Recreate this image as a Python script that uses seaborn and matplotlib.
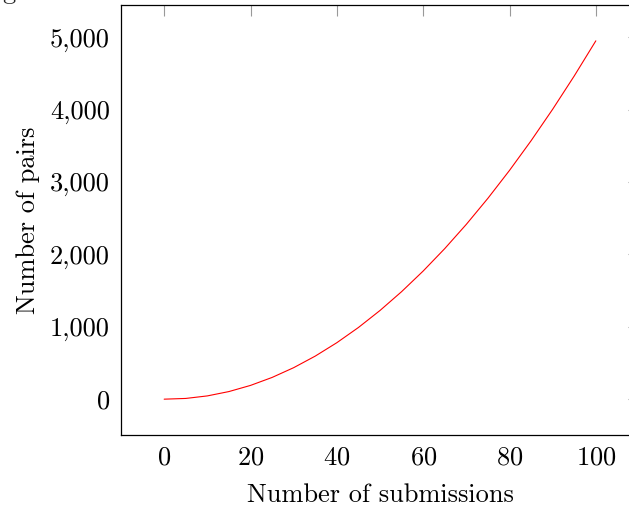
import pandas as pd
import seaborn as sns
import matplotlib
matplotlib.use("Agg")
import matplotlib.pyplot as plt
from matplotlib.ticker import FuncFormatter

# values
submissions = [0, 5, 10, 15, 20, 25, 30, 35, 40, 45, 50, 55, 60, 65, 70, 75, 80, 85, 90, 95, 100]
pairs = [0, 10, 45, 105, 190, 300, 435, 595, 780, 990, 1225, 1485, 1770, 2080, 2415,
         2775, 3160, 3570, 4005, 4465, 4950]
x_ticks = [0, 20, 40, 60, 80, 100]
y_ticks = [0, 1000, 2000, 3000, 4000, 5000]

df = pd.DataFrame({"submissions": submissions, "pairs": pairs})

sns.set_theme(style="white")
plt.rcParams['font.family'] = ['cmr10', 'DejaVu Serif']
plt.rcParams['axes.formatter.use_mathtext'] = True
plt.rcParams['font.size'] = 19

fig = plt.figure(figsize=(6.29, 5.12), dpi=100)
# axis box runs past the right edge of the image, as in the reference
ax = fig.add_axes([121 / 629, 77 / 512, (639 - 121) / 629, (435 - 5) / 512])

sns.lineplot(data=df, x="submissions", y="pairs", color="red", linewidth=0.8, ax=ax)

ax.set_xlim(-10, 110)
ax.set_ylim(-495, 5445)
ax.set_xticks(x_ticks)
ax.set_yticks(y_ticks)
ax.yaxis.set_major_formatter(FuncFormatter(lambda v, p: f"{int(v):,}"))
ax.tick_params(direction="in", length=8, width=0.8, color="#999999",
               top=True, right=True, labelsize=19, pad=8, labelcolor="black")
for s in ax.spines.values():
    s.set_color("black")
    s.set_linewidth(0.9)

ax.set_xlabel("Number of submissions", fontsize=19, labelpad=10, color="black")
ax.set_ylabel("Number of pairs", fontsize=19, labelpad=7, color="black")

# descender of a cropped-off caption at the very top-left
fig.text(2 / 629, 1.0 + 1 / 512, "g", fontsize=19, va="baseline", ha="left")

fig.savefig("out.png", dpi=100)
